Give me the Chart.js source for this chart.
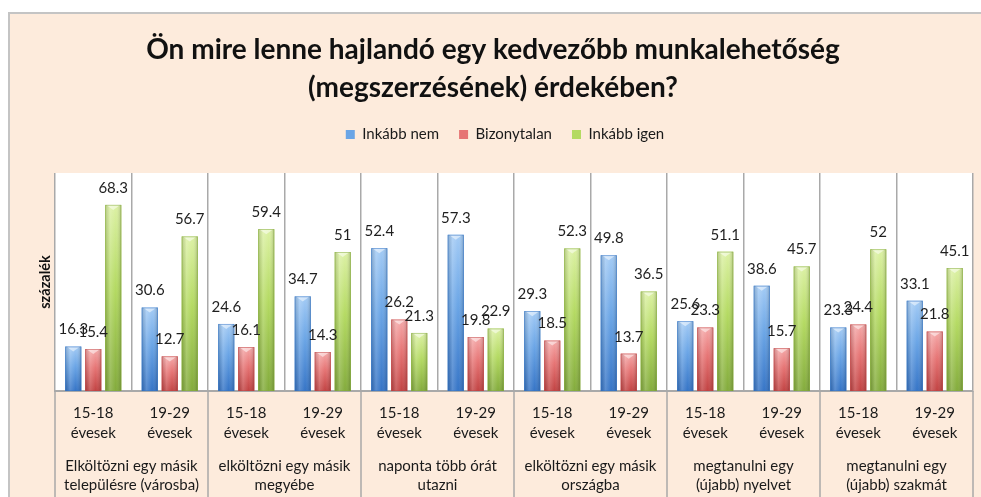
<!DOCTYPE html>
<html>
<head>
<meta charset="utf-8">
<script src="https://cdn.jsdelivr.net/npm/chart.js@4"></script>
<style>
    body { margin: 0; background: #fff; overflow: hidden; }
    #frame { position: absolute; left: 8px; top: 12px; width: 1000px; height: 500px; background: #fdebdc; border-left: 2px solid #c4c4c4; border-top: 2px solid #c4c4c4; }
    #chart { position: absolute; left: 0; top: 0; }
</style>
</head>
<body>
<div id="frame"></div>
<canvas id="chart" width="981" height="497"></canvas>
<script>
const ageLabels = [
    ['15-18', 'évesek'], ['19-29', 'évesek'], ['15-18', 'évesek'], ['19-29', 'évesek'],
    ['15-18', 'évesek'], ['19-29', 'évesek'], ['15-18', 'évesek'], ['19-29', 'évesek'],
    ['15-18', 'évesek'], ['19-29', 'évesek'], ['15-18', 'évesek'], ['19-29', 'évesek']
];
const groupLabels = [
    ['Elköltözni egy másik', 'településre (városba)'],
    ['elköltözni egy másik', 'megyébe'],
    ['naponta több órát', 'utazni'],
    ['elköltözni egy másik', 'országba'],
    ['megtanulni egy', '(újabb) nyelvet'],
    ['megtanulni egy', '(újabb) szakmát']
];
const inkabbNem = [16.3, 30.6, 24.6, 34.7, 52.4, 57.3, 29.3, 49.8, 25.6, 38.6, 23.3, 33.1];
const bizonytalan = [15.4, 12.7, 16.1, 14.3, 26.2, 19.8, 18.5, 13.7, 23.3, 15.7, 24.4, 21.8];
const inkabbIgen = [68.3, 56.7, 59.4, 51, 21.3, 22.9, 52.3, 36.5, 51.1, 45.7, 52, 45.1];

// light / mid / dark shades per series, for the glossy bars
const shades = [
    ['#a3cbf5', '#6aa5e6', '#3574c6'],
    ['#f5a9a9', '#e67474', '#c14242'],
    ['#dcf1a4', '#b4da62', '#83ab3c']
];

const gridGray = '#a9a9a9';
const font = 'Lato';

// white plot area
const plotBg = {
    id: 'plotBg',
    beforeDraw(chart) {
        const a = chart.chartArea, ctx = chart.ctx;
        ctx.save();
        ctx.fillStyle = '#fff';
        ctx.fillRect(a.left, a.top, a.right - a.left, a.bottom - a.top);
        ctx.restore();
    }
};

// repaint bars with a gradient + top bevel, then put value labels above
const glossBars = {
    id: 'glossBars',
    afterDatasetsDraw(chart) {
        const ctx = chart.ctx;
        chart.data.datasets.forEach((ds, di) => {
            const [light, mid, dark] = shades[di];
            chart.getDatasetMeta(di).data.forEach(bar => {
                const p = bar.getProps(['x', 'y', 'base', 'width'], true);
                const l = p.x - p.width / 2, w = p.width, top = p.y, h = p.base - p.y;
                ctx.save();
                let g = ctx.createLinearGradient(0, top, 0, p.base);
                g.addColorStop(0, light);
                g.addColorStop(0.45, mid);
                g.addColorStop(1, dark);
                ctx.fillStyle = g;
                ctx.fillRect(l, top, w, h);
                g = ctx.createLinearGradient(l, 0, l + w, 0);
                g.addColorStop(0, 'rgba(0,0,0,0.15)');
                g.addColorStop(0.3, 'rgba(255,255,255,0.18)');
                g.addColorStop(0.65, 'rgba(255,255,255,0)');
                g.addColorStop(1, 'rgba(0,0,0,0.2)');
                ctx.fillStyle = g;
                ctx.fillRect(l, top, w, h);
                // bevel chevron
                ctx.fillStyle = 'rgba(255,255,255,0.5)';
                ctx.beginPath();
                ctx.moveTo(l + 1, top);
                ctx.lineTo(l + w - 1, top);
                ctx.lineTo(p.x, top + 5);
                ctx.closePath();
                ctx.fill();
                ctx.strokeStyle = dark + '99';
                ctx.lineWidth = 0.8;
                ctx.strokeRect(l + 0.4, top + 0.4, w - 0.8, h - 0.8);
                ctx.restore();
            });
        });
        ctx.save();
        ctx.font = '15px ' + font;
        ctx.fillStyle = '#1f1f1f';
        ctx.textAlign = 'center';
        ctx.textBaseline = 'middle';
        chart.data.datasets.forEach((ds, di) => {
            chart.getDatasetMeta(di).data.forEach((bar, i) => {
                const p = bar.getProps(['x', 'y'], true);
                ctx.fillText(String(ds.data[i]), p.x, p.y - 17);
            });
        });
        ctx.restore();
    }
};

// group separators running down through the label rows
const groupLines = {
    id: 'groupLines',
    afterDraw(chart) {
        const x = chart.scales.x, ctx = chart.ctx;
        const n = ageLabels.length;
        ctx.save();
        ctx.strokeStyle = gridGray;
        ctx.lineWidth = 1.5;
        for (let k = 0; k <= n; k += 2) {
            const px = x.left + (x.right - x.left) * k / n;
            ctx.beginPath();
            ctx.moveTo(px, chart.chartArea.bottom);
            ctx.lineTo(px, chart.height);
            ctx.stroke();
        }
        ctx.restore();
    }
};

// extra room under the legend, title nudged left like the original
const blockTweaks = {
    id: 'blockTweaks',
    beforeInit(chart) {
        const fit = chart.legend.fit;
        chart.legend.fit = function () {
            fit.bind(chart.legend)();
            this.height += 21;
        };
    },
    afterLayout(chart) {
        chart.titleBlock.left = 13;
    }
};

new Chart(document.getElementById('chart'), {
    type: 'bar',
    data: {
        labels: ageLabels,
        datasets: [
            { label: 'Inkább nem', data: inkabbNem, backgroundColor: '#6aa5e6' },
            { label: 'Bizonytalan', data: bizonytalan, backgroundColor: '#e67474' },
            { label: 'Inkább igen', data: inkabbIgen, backgroundColor: '#b4da62' }
        ]
    },
    options: {
        responsive: false,
        animation: false,
        events: [],
        layout: { padding: { left: 37, right: 8, top: 0, bottom: 0 } },
        datasets: { bar: { categoryPercentage: 0.784, barPercentage: 0.8 } },
        plugins: {
            title: {
                display: true,
                text: ['Ön mire lenne hajlandó egy kedvezőbb munkalehetőség', '(megszerzésének) érdekében?'],
                color: '#111',
                font: { family: font, size: 28, weight: 'bold', lineHeight: 38 / 28 },
                padding: { top: 31, bottom: 0 }
            },
            legend: {
                position: 'top',
                labels: { color: '#1a1a1a', font: { family: font, size: 15 }, boxWidth: 9, boxHeight: 9, padding: 20 }
            },
            tooltip: { enabled: false }
        },
        scales: {
            x: {
                grid: { color: gridGray, lineWidth: 1.5, drawTicks: false, offset: true },
                border: { display: true, color: gridGray, width: 2 },
                ticks: { color: '#1a1a1a', font: { family: font, size: 15, lineHeight: 20 / 15 }, padding: 12, autoSkip: false, maxRotation: 0 },
                afterFit: s => { s.height = 66; }
            },
            x2: {
                type: 'category',
                labels: groupLabels,
                position: 'bottom',
                offset: true,
                grid: { display: false, drawTicks: false },
                border: { display: false },
                ticks: { color: '#1a1a1a', font: { family: font, size: 15, lineHeight: 19 / 15 }, padding: 0, autoSkip: false, maxRotation: 0 },
                afterFit: s => { s.height = 40; }
            },
            y: {
                min: 0,
                max: 80,
                grid: { display: false },
                border: { display: false },
                ticks: { display: false },
                title: { display: true, text: 'százalék', color: '#111', font: { family: font, size: 14.5, weight: 'bold' }, padding: { top: 0, bottom: 0 } },
                afterFit: s => { s.width = 18; }
            }
        }
    },
    plugins: [plotBg, glossBars, groupLines, blockTweaks]
});
</script>
</body>
</html>
